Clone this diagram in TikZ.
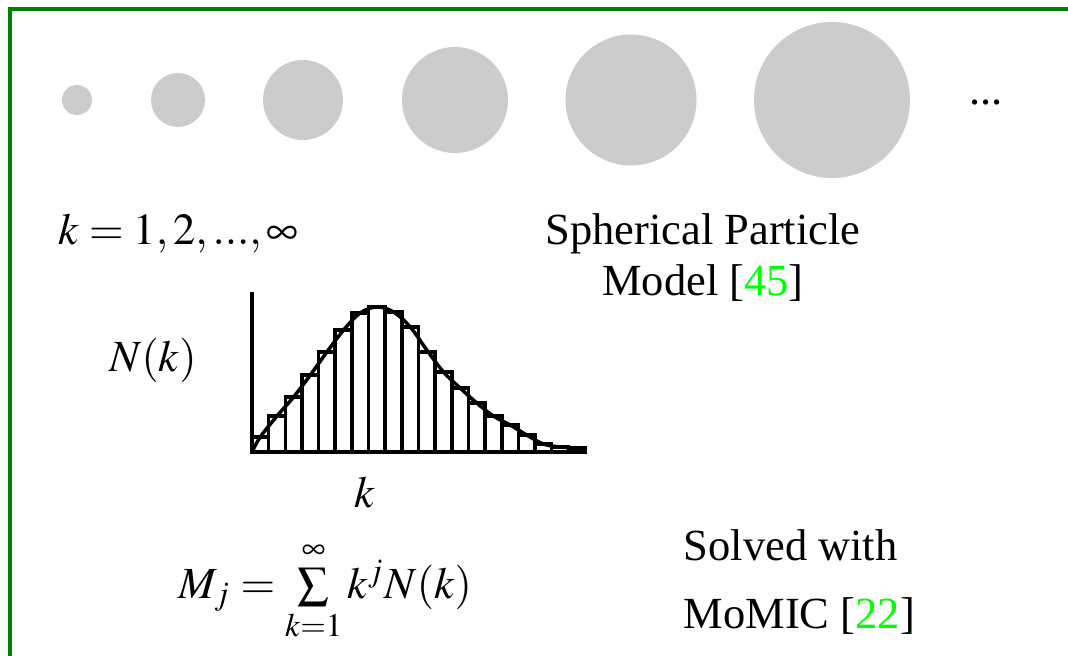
\documentclass[tikz,border=0pt]{standalone}
\usepackage{mathptmx}
\usepackage{fontspec}
\setmainfont{Liberation Serif}
\usepackage{xcolor}
\usepackage{tikz}

\definecolor{framegreen}{RGB}{0,128,0}
\definecolor{ballgray}{gray}{0.8}
\newcommand{\refnum}[1]{[\textcolor{green}{#1}]}

\begin{document}
\begin{tikzpicture}[
  ball/.style={circle,fill=ballgray,inner sep=0pt},
  lbl/.style={inner sep=0pt,anchor=base west,font=\fontsize{12.66}{15}\selectfont},
  hist/.style={line width=1pt}]
  \useasboundingbox (0,0) rectangle (10.68,6.55);
  \clip (0,0) rectangle (10.68,6.55);
  \draw[framegreen,line width=0.04cm] (0.10,-1) rectangle (11.5,6.46);

  % particles of growing size
  \node[ball,minimum size=0.30cm] (p1) at (0.77,5.55) {};
  \node[ball,minimum size=0.54cm] (p2) at (1.78,5.55) {};
  \node[ball,minimum size=0.80cm] (p3) at (3.03,5.55) {};
  \node[ball,minimum size=1.06cm] (p4) at (4.55,5.55) {};
  \node[ball,minimum size=1.31cm] (p5) at (6.31,5.55) {};
  \node[ball,minimum size=1.56cm] (p6) at (8.32,5.55) {};
  \node[lbl,anchor=base] (more) at (9.86,5.50) {...};

  \node[lbl] (krange) at (0.58,4.10) {$k=1,2,...,\infty$};
  \node[lbl,anchor=base] (sph) at (7.03,4.10) {Spherical Particle};
  \node[lbl,anchor=base] (model) at (7.03,3.59) {Model \refnum{45}};

  % distribution N(k)
  \node[lbl,anchor=base] (nk) at (1.53,2.83) {$N(k)$};
  \coordinate (o) at (2.52,2.03);
  \foreach \h [count=\i from 0] in {0.15,0.36,0.55,0.77,1.00,1.22,1.39,1.45,1.40,1.25,
                                    1.00,0.80,0.64,0.49,0.36,0.27,0.17,0.08,0.05,0.04}
    \draw[hist] (2.52+\i*0.1665,2.03) rectangle ++(0.1665,\h);
  \draw[hist] (o) ++(0,1.60) -- (o) -- ++(3.33,0);
  \draw[hist] plot[smooth,tension=0.6] coordinates {(2.52,2.03) (2.603,2.18) (2.770,2.39)
    (2.936,2.58) (3.103,2.80) (3.269,3.03) (3.436,3.25) (3.602,3.42) (3.769,3.48)
    (3.935,3.43) (4.102,3.28) (4.268,3.05) (4.435,2.83) (4.601,2.67) (4.768,2.52)
    (4.934,2.39) (5.101,2.30) (5.267,2.20) (5.434,2.11) (5.600,2.08) (5.767,2.07)
    (5.85,2.065)};
  \node[lbl,anchor=base] (kax) at (3.65,1.48) {$k$};

  \node[lbl,anchor=base] (mom) at (3.25,0.57) {$M_j=\sum\limits_{k=1}^{\infty}k^jN(k)$};
  \node[lbl] (solved) at (6.83,0.95) {Solved with};
  \node[lbl] (momic) at (6.83,0.27) {MoMIC \refnum{22}};
\end{tikzpicture}
\end{document}
